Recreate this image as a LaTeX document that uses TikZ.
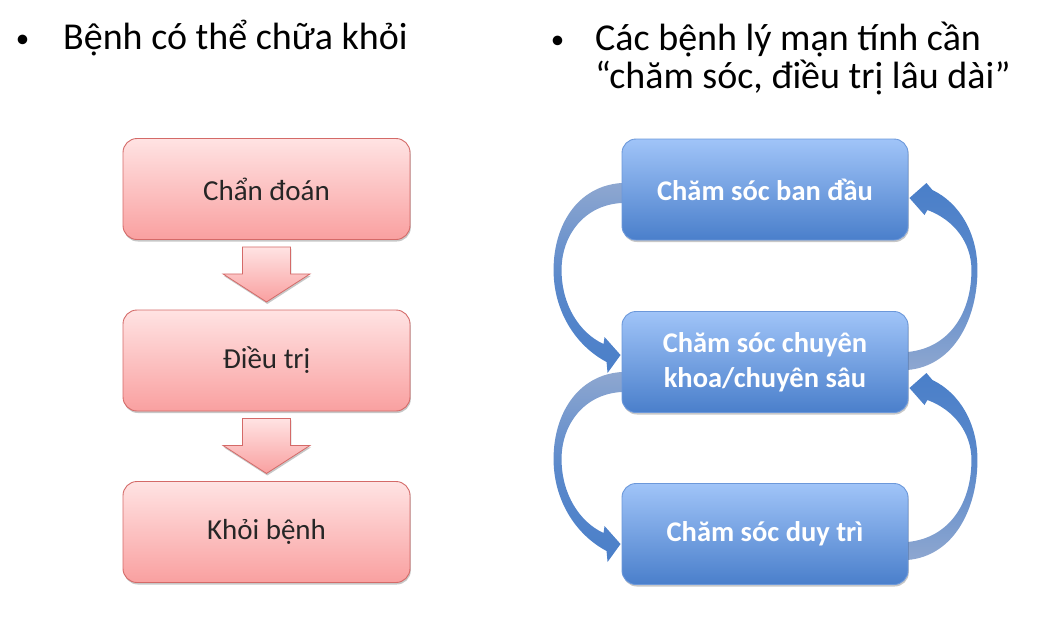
\documentclass[tikz,border=0pt]{standalone}
\usepackage{fontspec}
\setmainfont{Carlito}
\usetikzlibrary{shadows,calc,backgrounds}
\definecolor{pinktop}{HTML}{FFE3E3}
\definecolor{pinkbot}{HTML}{F9A0A0}
\definecolor{pinkdraw}{HTML}{D46A68}
\definecolor{bluetop}{HTML}{A0C4F8}
\definecolor{bluebot}{HTML}{4A7FCB}
\definecolor{bluedraw}{HTML}{6C98DA}
\definecolor{arcdark}{HTML}{4A7FC9}
\definecolor{arclight}{HTML}{8EA7D0}
\definecolor{txt}{HTML}{262626}
\tikzset{
  boxshadow/.style={drop shadow={shadow xshift=0.8pt,shadow yshift=-2pt,opacity=.22,fill=black}},
  pinkbox/.style={rounded corners=14pt, draw=pinkdraw, line width=0.9pt,
    top color=pinktop, bottom color=pinkbot, minimum width=287pt, minimum height=101pt,
    text=txt, font=\fontsize{29}{34}\selectfont, boxshadow},
  bluebox/.style={rounded corners=14pt, draw=bluedraw, line width=0.9pt,
    top color=bluetop, bottom color=bluebot, minimum width=286pt, minimum height=101pt,
    text=white, align=center, font=\bfseries\fontsize{28.5}{35}\selectfont, boxshadow},
  headtxt/.style={inner sep=0pt, anchor=base west, font=\fontsize{38}{44}\selectfont},
  bullettxt/.style={inner sep=0pt, anchor=base, font=\fontsize{27}{30}\selectfont},
  downarrow/.pic={
    \draw[draw=pinkdraw, line width=0.8pt, top color=pinktop, bottom color=pinkbot, boxshadow]
      (-24,0) -- (24,0) -- (24,27) -- (43.5,27) -- (0,55) -- (-43.5,27) -- (-24,27) -- cycle;
  },
  leftarc/.pic={
    \shade[top color=arclight, bottom color=arcdark, middle color=arcdark!75!arclight]
      (3,0) -- (0,0) .. controls (-44,3) and (-68,42) .. (-68,87)
      .. controls (-68,127) and (-47,162) .. (-15,179) -- (-14,190) -- (-1,172) -- (-17,154)
      -- (-18,161) .. controls (-42,150) and (-60,122) .. (-60,87)
      .. controls (-60,52) and (-37,22) .. (0,20) -- (3,20) -- cycle;
  },
  rightarc/.pic={
    \shade[top color=arcdark, bottom color=arclight, middle color=arcdark!75!arclight]
      (0,0) -- (17,-15) -- (23,-8) .. controls (50,5) and (68,35) .. (68,72)
      .. controls (68,120) and (45,168) .. (-2,172) -- (-5,172) -- (-5,154) -- (-2,154)
      .. controls (40,150) and (62,115) .. (62,72)
      .. controls (62,45) and (45,22) .. (18,12) -- (15,17) -- cycle;
  }
}
\begin{document}
\begin{tikzpicture}[x=1pt,y=-1pt]
\useasboundingbox (0,0) rectangle (1050,632);
% headers
\node[bullettxt] (bl) at (22.5,47) {•};
\node[headtxt] (hl) at (63,49) {Bệnh có thể chữa khỏi};
\node[bullettxt] (br) at (557.5,48) {•};
\node[headtxt] (hr1) at (595,50) {Các bệnh lý mạn tính cần};
\node[headtxt] (hr2) at (595,88) {“chăm sóc, điều trị lâu dài”};
% left column
\node[pinkbox] (l1) at (266.5,189) {Chẩn đoán};
\node[pinkbox] (l2) at (266.5,360.5) {Điều trị};
\node[pinkbox] (l3) at (266.5,532) {Khỏi bệnh};
\pic at ($(l1.south)+(0,7)$) {downarrow};
\pic at ($(l2.south)+(0,7)$) {downarrow};
% right column
\node[bluebox] (r1) at (765,189.5) {Chăm sóc ban đầu};
\node[bluebox] (r2) at (765,362) {Chăm sóc chuyên\\khoa/chuyên sâu};
\node[bluebox] (r3) at (765,534) {Chăm sóc duy trì};
\begin{scope}[on background layer]
\pic at ($(r1.west)+(0,-6.5)$) {leftarc};
\pic at ($(r2.west)+(0,10)$) {leftarc};
\pic at ($(r1.east)+(1,8.5)$) {rightarc};
\pic at ($(r2.east)+(1,26)$) {rightarc};
\end{scope}
\end{tikzpicture}
\end{document}
